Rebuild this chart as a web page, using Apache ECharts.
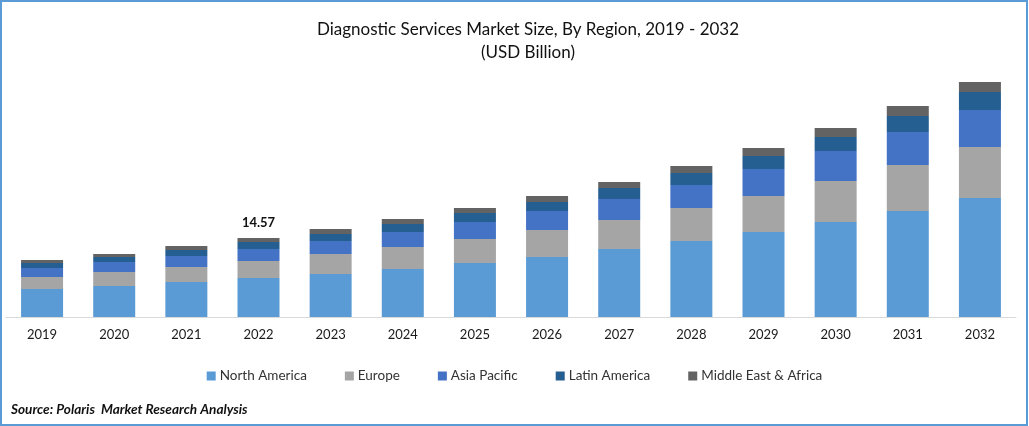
<!DOCTYPE html>
<html>
<head>
<meta charset="utf-8">
<title>Diagnostic Services Market Size</title>
<script src="https://cdn.jsdelivr.net/npm/echarts@6/dist/echarts.min.js"></script>
<style>
html, body { margin: 0; padding: 0; background: #fff; }
#chart { width: 1029px; height: 426px; box-sizing: border-box; }
</style>
</head>
<body>
<div id="chart"></div>
<script>
var years = ['2019', '2020', '2021', '2022', '2023', '2024', '2025', '2026', '2027', '2028', '2029', '2030', '2031', '2032'];
var northAmerica = [5.16, 5.72, 6.46, 7.19, 7.93, 8.85, 9.96, 11.07, 12.54, 14.02, 15.68, 17.52, 19.55, 21.95];
var europe = [2.21, 2.58, 2.77, 3.14, 3.69, 4.06, 4.43, 4.98, 5.35, 6.09, 6.64, 7.56, 8.48, 9.41];
var asiaPacific = [1.66, 1.84, 2.03, 2.21, 2.40, 2.77, 3.14, 3.50, 3.87, 4.24, 4.98, 5.53, 6.09, 6.82];
var latinAmerica = [0.92, 0.92, 1.11, 1.29, 1.29, 1.48, 1.66, 1.66, 2.03, 2.21, 2.40, 2.58, 2.95, 3.32];
var middleEastAfrica = [0.55, 0.55, 0.74, 0.74, 0.92, 0.92, 0.92, 1.11, 1.11, 1.29, 1.48, 1.66, 1.84, 1.84];
var labelledYear = '2022';
var labelledTotal = '14.57';

var fontName = 'Lato';
var myChart = echarts.init(document.getElementById('chart'), null, { renderer: 'canvas' });

function makeSeries(name, values, color) {
    return { name: name, type: 'bar', stack: 'total', barWidth: 42, data: values, itemStyle: { color: color } };
}

var topSeries = makeSeries('Middle East & Africa', middleEastAfrica, '#636363');
// 只有2022年显示总数
topSeries.label = {
    show: true,
    position: 'top',
    distance: 9,
    fontFamily: fontName,
    fontSize: 13,
    fontWeight: 'bold',
    color: '#111',
    formatter: function (p) {
        return p.name === labelledYear ? labelledTotal : '';
    }
};

var option = {
    animation: false,
    backgroundColor: '#fff',
    textStyle: { fontFamily: fontName },
    title: [{
        text: 'Diagnostic Services Market Size, By Region, 2019 - 2032\n(USD Billion)',
        left: 523,
        top: 13,
        textAlign: 'center',
        textStyle: { fontFamily: fontName, fontSize: 17, fontWeight: 'normal', color: '#111', lineHeight: 23 }
    }, {
        text: 'Source: Polaris  Market Research Analysis',
        left: 6,
        top: 398,
        textStyle: { fontFamily: fontName, fontSize: 13.6, fontWeight: 'bold', fontStyle: 'italic', color: '#111' }
    }],
    legend: {
        left: 'center',
        top: 364,
        itemWidth: 9,
        itemHeight: 9,
        itemGap: 38,
        icon: 'rect',
        textStyle: { fontFamily: fontName, fontSize: 13.5, color: '#333', padding: [0, 0, 0, -1] },
        data: ['North America', 'Europe', 'Asia Pacific', 'Latin America', 'Middle East & Africa']
    },
    grid: { left: 6, right: 13, top: 73, bottom: 109 },
    xAxis: {
        type: 'category',
        data: years,
        axisTick: { show: false },
        axisLine: { lineStyle: { color: '#d9d9d9', width: 1 } },
        axisLabel: { fontFamily: fontName, fontSize: 13, color: '#1a1a1a', margin: 11 }
    },
    yAxis: { type: 'value', min: 0, max: 45, show: false },
    series: [
        makeSeries('North America', northAmerica, '#5B9BD5'),
        makeSeries('Europe', europe, '#A5A5A5'),
        makeSeries('Asia Pacific', asiaPacific, '#4472C4'),
        makeSeries('Latin America', latinAmerica, '#255E91'),
        topSeries
    ],
    graphic: [{
        type: 'rect',
        silent: true,
        shape: { x: 1, y: 1, width: 1026, height: 424 },
        style: { fill: 'none', stroke: '#5B9BD5', lineWidth: 2 }
    }]
};
myChart.setOption(option);
window.onresize = myChart.resize;
</script>
</body>
</html>
